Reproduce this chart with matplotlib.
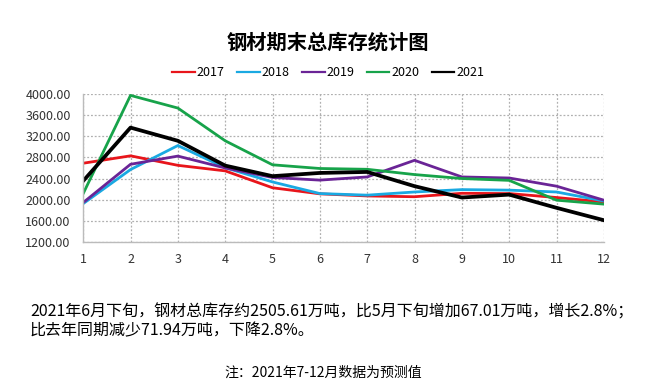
import matplotlib
matplotlib.use("Agg")
import matplotlib.pyplot as plt
from matplotlib.ticker import FormatStrFormatter

plt.rcParams['font.family'] = ['Noto Sans CJK SC', 'DejaVu Sans']

months = list(range(1, 13))
y2017 = [2690, 2830, 2650, 2545, 2225, 2110, 2070, 2055, 2120, 2115, 2040, 1955]
y2018 = [1925, 2570, 3025, 2605, 2335, 2115, 2085, 2145, 2190, 2180, 2145, 1975]
y2019 = [1945, 2670, 2825, 2600, 2420, 2370, 2430, 2745, 2430, 2410, 2255, 1990]
y2020 = [2115, 3975, 3735, 3115, 2660, 2590, 2575, 2475, 2400, 2365, 1990, 1915]
y2021 = [2355, 3365, 3115, 2645, 2445, 2506, 2525, 2255, 2040, 2095, 1845, 1610]

series = [("2017", y2017, "#e8151b", 2.0),
          ("2018", y2018, "#1aa9e2", 2.0),
          ("2019", y2019, "#6a2496", 2.0),
          ("2020", y2020, "#17a34a", 2.0),
          ("2021", y2021, "#000000", 2.7)]

fig = plt.figure(figsize=(6.5, 3.92), dpi=100)
ax = fig.add_axes([0.128, 0.383, 0.801, 0.377])

for name, vals, color, lw in series:
    ax.plot(months, vals, color=color, lw=lw, label=name)

ax.set_xlim(1, 12)
ax.set_ylim(1200, 4000)
ax.set_xticks(months)
ax.set_yticks(range(1200, 4001, 400))
ax.yaxis.set_major_formatter(FormatStrFormatter('%.2f'))
ax.grid(True, color="#b0b0b0", linestyle=(0, (1.5, 1.5)), lw=0.9)
ax.tick_params(length=0, labelsize=9, colors="#333333")
ax.tick_params(axis='y', pad=9)
ax.tick_params(axis='x', pad=8)
for s in ["top", "right"]:
    ax.spines[s].set_visible(False)
for s in ["left", "bottom"]:
    ax.spines[s].set_color("#bbbbbb")
    ax.spines[s].set_linewidth(1.0)

fig.text(0.505, 0.893, "钢材期末总库存统计图", ha="center", va="center",
         fontsize=14.6, fontweight="bold")
leg = fig.legend(loc="center", bbox_to_anchor=(0.505, 0.815), ncol=5, frameon=False,
                 fontsize=9, handlelength=1.8, handletextpad=0.15, columnspacing=1.0)
# legend keys all drawn the same thin width
for line in leg.get_lines():
    line.set_linewidth(1.6)

fig.text(0.046, 0.204, "2021年6月下旬，钢材总库存约2505.61万吨，比5月下旬增加67.01万吨，增长2.8%；",
         ha="left", va="center", fontsize=11.5)
fig.text(0.046, 0.156, "比去年同期减少71.94万吨，下降2.8%。",
         ha="left", va="center", fontsize=11.5)
fig.text(0.497, 0.048, "注：2021年7-12月数据为预测值", ha="center", va="center", fontsize=10)

fig.savefig("out.png", dpi=100)
